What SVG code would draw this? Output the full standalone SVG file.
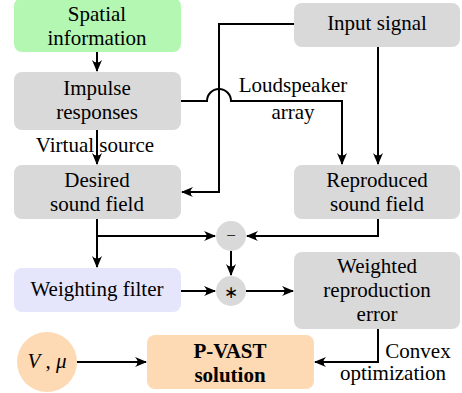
<svg xmlns="http://www.w3.org/2000/svg" width="462" height="393" viewBox="0 0 462 393">
<style>
text{font-size:21px;fill:#000;text-anchor:middle}
.b{font-weight:bold}
.gray{fill:#d9d9d9}
.green{fill:#b3f7b3}
.lav{fill:#e5e5fc}
.peach{fill:#fdd9b4}
.c{fill:none;stroke:#000;stroke-width:2}
</style>
<defs>
<marker id="a" viewBox="0 0 12 12" refX="11" refY="6" markerWidth="12" markerHeight="12" markerUnits="userSpaceOnUse" orient="auto">
<path d="M0,1 Q5,6 0,11 L12,6 Z" fill="#000"/>
</marker>
</defs>
<g id="connectors">
<path class="c" d="M97,52 V71" marker-end="url(#a)"/>
<path class="c" d="M97,130 V164" marker-end="url(#a)"/>
<path class="c" d="M294,24 H219 V192 H182" marker-end="url(#a)"/>
<path class="c" d="M181,101 H207 A12,12 0 0 1 231,101 H342 V164" marker-end="url(#a)"/>
<path class="c" d="M378,47 V164" marker-end="url(#a)"/>
<path class="c" d="M97,219 V267" marker-end="url(#a)"/>
<path class="c" d="M97,236 H215" marker-end="url(#a)"/>
<path class="c" d="M378,219 V236 H247" marker-end="url(#a)"/>
<path class="c" d="M231,251 V275" marker-end="url(#a)"/>
<path class="c" d="M181,291 H215" marker-end="url(#a)"/>
<path class="c" d="M246,291 H293" marker-end="url(#a)"/>
<path class="c" d="M77,362 H146" marker-end="url(#a)"/>
<path class="c" d="M378,329 V362 H315" marker-end="url(#a)"/>
</g>
<g font-family="Liberation Serif, Times New Roman, serif">
<g id="labels">
<text x="95" y="152">Virtual source</text>
<text x="293" y="92">Loudspeaker</text>
<text x="293" y="119">array</text>
<text x="418" y="358">Convex</text>
<text x="393" y="380">optimization</text>
</g>
<g id="spatial">
<rect class="green" x="14" y="-2" width="167" height="54" rx="8"/>
<text x="97" y="21">Spatial</text>
<text x="97" y="45">information</text>
</g>
<g id="impulse">
<rect class="gray" x="14" y="72" width="167" height="58" rx="8"/>
<text x="97" y="95">Impulse</text>
<text x="97" y="119">responses</text>
</g>
<g id="input">
<rect class="gray" x="294" y="3" width="166" height="44" rx="8"/>
<text x="377" y="30">Input signal</text>
</g>
<g id="desired">
<rect class="gray" x="14" y="165" width="167" height="54" rx="8"/>
<text x="97" y="187">Desired</text>
<text x="97" y="211">sound field</text>
</g>
<g id="reproduced">
<rect class="gray" x="294" y="165" width="166" height="54" rx="8"/>
<text x="377" y="187">Reproduced</text>
<text x="377" y="211">sound field</text>
</g>
<g id="minus">
<circle class="gray" cx="231" cy="236" r="15"/>
<text x="231" y="241" style="font-size:17px">−</text>
</g>
<g id="weighting">
<rect class="lav" x="14" y="268" width="167" height="44" rx="8"/>
<text x="97" y="296">Weighting filter</text>
</g>
<g id="star">
<circle class="gray" cx="231" cy="291" r="15"/>
<text x="231" y="298" style="font-size:17px">∗</text>
</g>
<g id="error">
<rect class="gray" x="294" y="252" width="166" height="77" rx="8"/>
<text x="377" y="273">Weighted</text>
<text x="377" y="297">reproduction</text>
<text x="377" y="321">error</text>
</g>
<g id="vmu">
<circle class="peach" cx="47" cy="362" r="30"/>
<text x="47" y="368"><tspan font-style="italic">V</tspan> , <tspan font-style="italic">μ</tspan></text>
</g>
<g id="pvast">
<rect class="peach" x="147" y="335" width="167" height="54" rx="8"/>
<text class="b" x="230" y="358">P-VAST</text>
<text class="b" x="230" y="382">solution</text>
</g>
</g>
</svg>
